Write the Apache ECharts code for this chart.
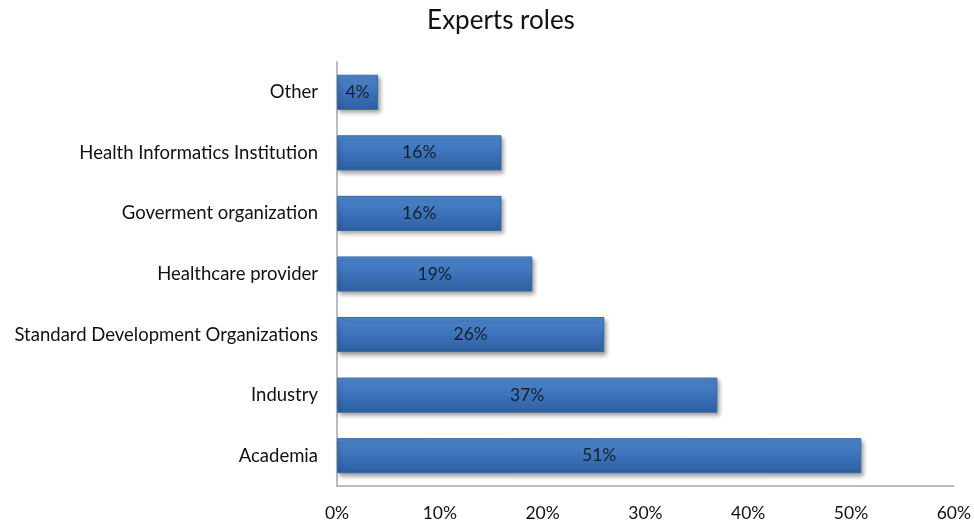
<!DOCTYPE html>
<html>
<head>
<meta charset="utf-8">
<script src="https://cdn.jsdelivr.net/npm/echarts@6/dist/echarts.min.js"></script>
<style>
  html, body { margin: 0; padding: 0; background: #ffffff; }
  #chart { width: 974px; height: 524px; }
</style>
</head>
<body>
<div id="chart"></div>
<script>
// Expert roles, bottom-to-top order on the category axis
const categories = [
  'Academia',
  'Industry',
  'Standard Development Organizations',
  'Healthcare provider',
  'Goverment organization',
  'Health Informatics Institution',
  'Other'
];
const shares = [51, 37, 26, 19, 16, 16, 4];
const axisTicks = [0, 10, 20, 30, 40, 50, 60];

const FONT = 'Lato, "Open Sans", sans-serif';

const chart = echarts.init(document.getElementById('chart'));
chart.setOption({
  backgroundColor: '#ffffff',
  title: {
    text: 'Experts roles',
    left: 496,
    textAlign: 'center',
    top: 3,
    textStyle: { fontFamily: FONT, fontSize: 26, fontWeight: 'normal', color: '#111111' }
  },
  grid: { left: 337, right: 18, top: 62, bottom: 38 },
  xAxis: {
    type: 'value',
    min: axisTicks[0],
    max: axisTicks[axisTicks.length - 1],
    interval: 10,
    axisLine: { show: true, lineStyle: { color: '#a6a6a6', width: 1.5 } },
    axisTick: { show: false },
    splitLine: { show: false },
    axisLabel: {
      fontFamily: FONT, fontSize: 17.5, color: '#111111', margin: 18,
      formatter: v => v + '%'
    }
  },
  yAxis: {
    type: 'category',
    data: categories,
    axisLine: { show: true, lineStyle: { color: '#a6a6a6', width: 1.5 } },
    axisTick: { show: false },
    axisLabel: { fontFamily: FONT, fontSize: 18.5, color: '#111111', margin: 19 }
  },
  series: [{
    type: 'bar',
    data: shares,
    barCategoryGap: '42%',
    itemStyle: {
      color: new echarts.graphic.LinearGradient(0, 0, 0, 1, [
        { offset: 0, color: '#4f87cc' },
        { offset: 0.5, color: '#3c73bb' },
        { offset: 1, color: '#2f5f9f' }
      ]),
      borderColor: '#3a6aa8',
      borderWidth: 1,
      shadowColor: 'rgba(0,0,0,0.35)',
      shadowBlur: 4,
      shadowOffsetX: 2,
      shadowOffsetY: 3
    },
    label: {
      show: true,
      position: 'inside',
      fontFamily: FONT,
      fontSize: 17.5,
      color: '#17202c',
      formatter: p => p.value + '%'
    }
  }],
  animation: false
});
</script>
</body>
</html>
